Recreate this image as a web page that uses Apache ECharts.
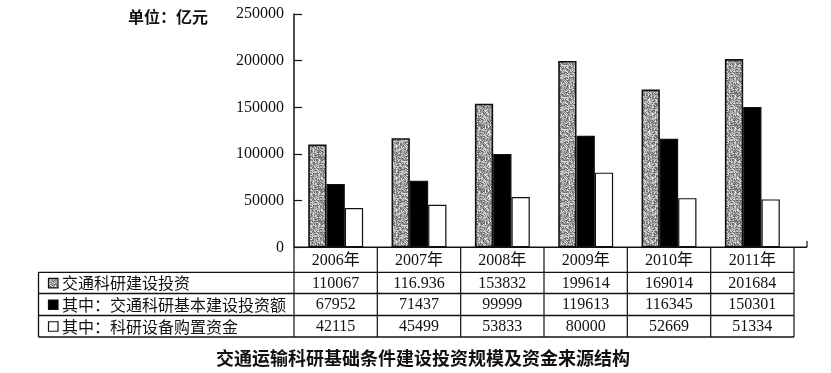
<!DOCTYPE html>
<html><head><meta charset="utf-8">
<script src="https://cdn.jsdelivr.net/npm/echarts@6/dist/echarts.min.js"></script>
<style>html,body{margin:0;padding:0;background:#fff}#c{width:831px;height:373px}</style>
</head><body><div id="c"></div>
<script>
const categories = ['2006年','2007年','2008年','2009年','2010年','2011年'];
const seriesNames = ['交通科研建设投资','其中：交通科研基本建设投资额','其中：科研设备购置资金'];
const investTotal = [110067,116936,153832,199614,169014,201684];
const investBasic = [67952,71437,99999,119613,116345,150301];
const investEquip = [42115,45499,53833,80000,52669,51334];
const tableTotal = ['110067','116.936','153832','199614','169014','201684'];
const tableBasic = ['67952','71437','99999','119613','116345','150301'];
const tableEquip = ['42115','45499','53833','80000','52669','51334'];
const unitText = '单位：亿元';
const titleText = '交通运输科研基础条件建设投资规模及资金来源结构';

function grayPattern(){
  const n=32, c=document.createElement('canvas'); c.width=n; c.height=n;
  const g=c.getContext('2d'); const img=g.createImageData(n,n);
  for(let i=0;i<n*n;i++){
    let h=Math.imul(i+7,2654435761)>>>0; h^=h>>>15; h=Math.imul(h,2246822519)>>>0; h^=h>>>13;
    const v=160+(h%75);
    img.data[i*4]=v;img.data[i*4+1]=v;img.data[i*4+2]=v;img.data[i*4+3]=255;
  }
  g.putImageData(img,0,0); return c;
}
const pat = {image: grayPattern(), repeat:'repeat'};

const L=294, W=500, T=14, B=247.3, colW=W/6;
const serif='"Liberation Serif","DejaVu Serif",serif';
const cjk='"Noto Sans CJK SC","Liberation Serif",sans-serif';
const rowY=[272.3,293.5,315.5,337];
const xAxes=[];
const rowLabels=[categories,tableTotal,tableBasic,tableEquip];
const offsets=[0,23,44.5,66];
rowLabels.forEach((d,k)=>{
  xAxes.push({type:'category',data:d,gridIndex:0,position:'bottom',offset:offsets[k],
    axisLine:{show:false},axisTick:{show:false},splitLine:{show:false},
    axisLabel:{show:true,interval:0,margin:5,color:'#111',fontSize:16,fontFamily:k===0?'"Liberation Serif","Noto Sans CJK SC",serif':serif}});
});

const graphic=[];
const line=(x1,y1,x2,y2,w)=>graphic.push({type:'line',silent:true,shape:{x1,y1,x2,y2},style:{stroke:'#111',lineWidth:w||1.2}});
line(L,B,807,B,1.6);
line(807,B,807,241,1.2);
rowY.forEach(y=>line(38.5,y,L+W,y,1.3));
line(38.5,rowY[0],38.5,rowY[3],1.3);
for(let i=0;i<=6;i++){ line(L+i*colW,B,L+i*colW,rowY[3],1.2); }
const sw=[{fill:pat},{fill:'#000'},{fill:'#fff'}];
[0,1,2].forEach(k=>{
  const cy=(rowY[k]+rowY[k+1])/2;
  graphic.push({type:'rect',silent:true,shape:{x:48.5,y:cy-4.5,width:9.5,height:9.5},style:{fill:sw[k].fill,stroke:'#111',lineWidth:1.2}});
  graphic.push({type:'text',silent:true,x:62,y:cy+0.5,style:{text:seriesNames[k],font:'16px '+cjk,fill:'#111',verticalAlign:'middle',textAlign:'left'}});
});
graphic.push({type:'text',silent:true,x:128,y:17,style:{text:unitText,font:'bold 16px '+cjk,fill:'#111',verticalAlign:'middle'}});
graphic.push({type:'text',silent:true,x:423,y:358,style:{text:titleText,font:'bold 18px '+cjk,fill:'#111',verticalAlign:'middle',textAlign:'center'}});

const barStyle=(c,bw)=>({color:c,borderColor:'#111',borderWidth:bw});
const chart=echarts.init(document.getElementById('c'),null,{renderer:'canvas'});
chart.setOption({
  animation:false,
  backgroundColor:'#fff',
  grid:{left:L,top:T,width:W,height:B-T,containLabel:false},
  xAxis:xAxes,
  yAxis:{type:'value',min:0,max:250000,interval:50000,
    axisLine:{show:true,lineStyle:{color:'#111',width:1.5}},
    axisTick:{show:true,inside:true,length:8,lineStyle:{color:'#111',width:1.2}},
    splitLine:{show:false},
    axisLabel:{margin:10,color:'#111',fontSize:16,fontFamily:serif,formatter:v=>String(v)}},
  series:[
    {name:seriesNames[0],type:'bar',xAxisIndex:0,data:investTotal,barWidth:18.3,barGap:'0%',itemStyle:barStyle(pat,1.6)},
    {name:seriesNames[1],type:'bar',xAxisIndex:0,data:investBasic,barWidth:18.3,barGap:'0%',itemStyle:barStyle('#000',1.2)},
    {name:seriesNames[2],type:'bar',xAxisIndex:0,data:investEquip,barWidth:18.3,barGap:'0%',itemStyle:barStyle('#fff',1.2)}
  ],
  graphic:graphic
});
</script></body></html>
